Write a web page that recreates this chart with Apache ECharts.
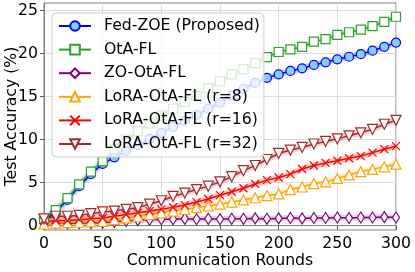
<!DOCTYPE html>
<html><head><meta charset="utf-8">
<script src="https://cdn.jsdelivr.net/npm/echarts@6/dist/echarts.min.js"></script>
<style>html,body{margin:0;padding:0;background:#fff}#c{width:415px;height:272px}</style>
</head><body><div id="c"></div>
<script>
const rounds = [0,10,20,30,40,50,60,70,80,90,100,110,120,130,140,150,160,170,180,190,200,210,220,230,240,250,260,270,280,290,300];
const fedZoe = [0.6,1.6,3.0,4.6,6.0,7.2,7.95,8.7,9.4,10.1,10.8,11.5,12.2,12.9,13.6,14.3,15.1,15.9,16.6,17.2,17.6,18.0,18.3,18.7,19.0,19.35,19.65,19.95,20.35,20.8,21.3];
const otaFl = [0.8,1.8,3.2,4.8,6.3,7.5,8.9,10.0,11.0,11.9,12.8,13.6,14.4,15.1,16.0,16.8,17.6,18.2,18.9,19.6,20.2,20.5,20.8,21.4,21.7,22.2,22.5,22.8,23.2,23.7,24.3];
const zoOta = [0.2,0.3,0.25,0.3,0.3,0.35,0.45,0.55,0.65,0.7,0.75,0.75,0.8,0.75,0.8,0.75,0.8,0.8,0.85,0.8,0.85,0.9,0.85,0.9,0.9,0.95,0.9,0.95,0.95,1.0,0.95];
const lora8 = [0.2,0.3,0.35,0.4,0.45,0.5,0.7,0.9,1.1,1.3,1.5,1.7,1.9,2.1,2.3,2.5,2.75,3.0,3.25,3.5,3.7,4.2,4.5,4.9,5.1,5.5,5.9,6.3,6.55,6.85,7.15];
const lora16 = [0.5,0.6,0.6,0.7,0.8,0.9,1.1,1.3,1.5,1.7,1.9,2.15,2.4,2.75,3.1,3.55,3.95,4.35,4.85,5.3,5.6,6.0,6.6,7.0,7.3,7.55,7.85,8.1,8.5,8.9,9.25];
const lora32 = [0.8,1.1,1.1,1.2,1.4,1.6,1.7,1.9,2.1,2.5,2.9,3.4,3.8,4.2,4.6,5.1,5.7,6.4,7.0,7.7,8.4,8.8,9.1,9.5,9.8,10.1,10.45,10.8,11.2,11.8,12.25];
const seriesNames = ['Fed-ZOE (Proposed)','OtA-FL','ZO-OtA-FL','LoRA-OtA-FL (r=8)','LoRA-OtA-FL (r=16)','LoRA-OtA-FL (r=32)'];
const xTicks = [0,50,100,150,200,250,300];
const yTicks = [0,5,10,15,20,25];

const FONT = 'DejaVu Sans';
const FS = 15.7;
const pair = v => rounds.map((r,i)=>[r,v[i]]);
const styles = [
  {data:fedZoe, color:'#0000ff', symbol:'circle', size:9, fill:'#87ceeb', rot:0},
  {data:otaFl, color:'#2ca02c', symbol:'rect', size:9, fill:'#ffffff', rot:0},
  {data:zoOta, color:'#800080', symbol:'diamond', size:[7,11], fill:'#ffffff', rot:0},
  {data:lora8, color:'#ffa500', symbol:'triangle', size:10, fill:'#ffffff', rot:0},
  {data:lora16, color:'#ff0000', symbol:'path://M0,0L10,10M10,0L0,10', size:8, fill:'none', rot:0},
  {data:lora32, color:'#a52a2a', symbol:'triangle', size:10, fill:'#ffffff', rot:180}
];
const series = [];
styles.forEach((s,i)=>{
  series.push({
    name:'band'+i, type:'line', data:pair(s.data), showSymbol:false, silent:true,
    lineStyle:{color:s.color, width:6, opacity:0.2}, z:1, animation:false
  });
});
styles.forEach((s,i)=>{
  series.push({
    name:seriesNames[i], type:'line', data:pair(s.data), symbol:s.symbol, symbolSize:s.size,
    symbolRotate:s.rot, showAllSymbol:true,
    lineStyle:{color:s.color, width:1.5},
    itemStyle:{color:s.fill, borderColor:s.color, borderWidth:1.2},
    z:3, animation:false
  });
});
const chart = echarts.init(document.getElementById('c'), null, {renderer:'canvas'});
chart.setOption({
  animation:false,
  textStyle:{fontFamily:FONT},
  grid:{left:44, right:19, top:3, bottom:42, outerBoundsMode:'none', containLabel:false,
        show:true, borderColor:'#808080', borderWidth:1, backgroundColor:'transparent'},
  legend:{
    data:seriesNames, orient:'vertical', left:52, top:13,
    itemWidth:32, itemHeight:12, itemGap:7.6,
    textStyle:{fontFamily:FONT, fontSize:FS, color:'#000', lineHeight:15.7, padding:[0,0,0,8]},
    backgroundColor:'rgba(255,255,255,0.8)', borderColor:'#d0d0d0', borderWidth:1, borderRadius:4,
    padding:[5,4,5,6]
  },
  xAxis:{
    type:'value', min:0, max:300, interval:50,
    name:'Communication Rounds', nameLocation:'middle', nameGap:23, nameMoveOverlap:false,
    nameTextStyle:{fontFamily:FONT, fontSize:FS, color:'#000'},
    axisLine:{show:true, lineStyle:{color:'#808080'}},
    axisTick:{show:true, length:4, lineStyle:{color:'#555'}, customValues:xTicks},
    axisLabel:{fontFamily:FONT, fontSize:FS, color:'#000', margin:6, customValues:xTicks},
    splitLine:{show:true, lineStyle:{color:'#dcdcdc', width:1}}
  },
  yAxis:{
    type:'value', min:-0.5, max:25.9,
    name:'Test Accuracy (%)', nameLocation:'middle', nameGap:24, nameMoveOverlap:false,
    nameTextStyle:{fontFamily:FONT, fontSize:FS, color:'#000'},
    axisLine:{show:true, lineStyle:{color:'#808080'}},
    axisTick:{show:true, length:4, lineStyle:{color:'#555'}, customValues:yTicks},
    axisLabel:{fontFamily:FONT, fontSize:FS, color:'#000', margin:6, customValues:yTicks},
    splitLine:{show:true, lineStyle:{color:'#dcdcdc', width:1}}
  },
  series:series
});
</script></body></html>
